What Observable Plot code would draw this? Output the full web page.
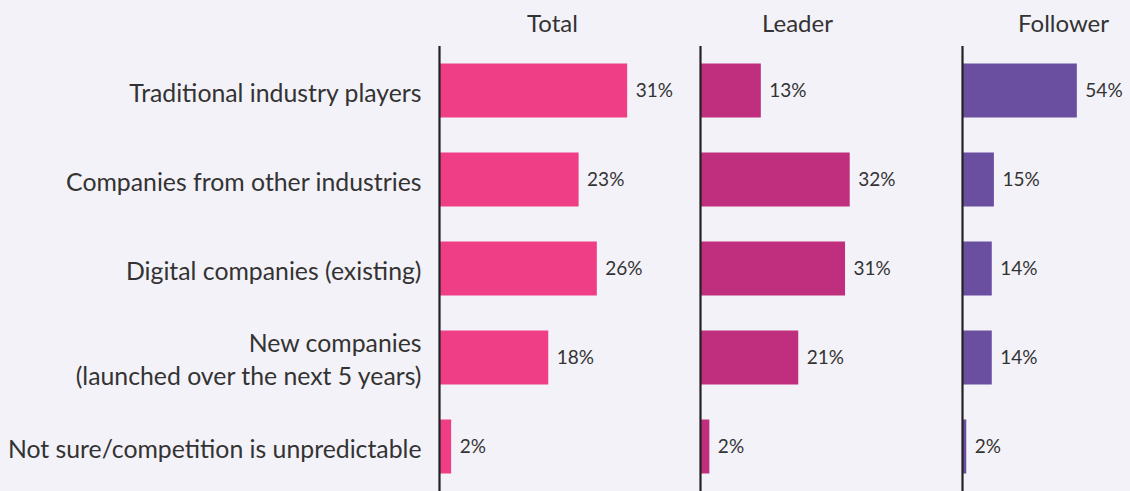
<!DOCTYPE html>
<html><head><meta charset="utf-8">
<script src="https://cdn.jsdelivr.net/npm/d3@7"></script>
<script src="https://cdn.jsdelivr.net/npm/@observablehq/plot@0.6"></script>
<style>
html,body{margin:0;padding:0;background:#F3F2F8;}
#chart{position:relative;width:1130px;height:491px;overflow:hidden;}
#chart svg{position:absolute;top:0;}
</style></head><body><div id="chart"></div>
<script>
const categories = [
  "Traditional industry players",
  "Companies from other industries",
  "Digital companies (existing)",
  "New companies\n(launched over the next 5 years)",
  "Not sure/competition is unpredictable"
];
const totalValues = [31, 23, 26, 18, 2];
const leaderValues = [13, 32, 31, 21, 2];
const followerValues = [54, 15, 14, 14, 2];
const panelTitles = ["Total", "Leader", "Follower"];
const panelColors = ["#EF3E85", "#BF2F7D", "#6A4FA0"];

const FONT = "Lato, 'Open Sans', sans-serif";
const TEXT = "#333333";

function panel({values, color, title, left, width, marginLeft, xMax, titleDx, labels}) {
  const data = categories.map((c, i) => ({category: c, value: values[i]}));
  const marks = [
    Plot.barX(data, {y: "category", x: "value", fill: color, insetTop: 17.5, insetBottom: 17.5}),
    Plot.ruleX([0], {stroke: "#222", strokeWidth: 2.2}),
    Plot.text(data, {y: "category", x: "value", text: d => d.value + "%", textAnchor: "start", dx: 8, fontSize: 19, fill: TEXT}),
    Plot.text([title], {frameAnchor: "top-left", dx: titleDx, dy: -22, textAnchor: "middle", lineAnchor: "middle", fontSize: 24, fill: TEXT})
  ];
  if (labels) marks.push(Plot.axisY({tickSize: 0, tickPadding: 18, fontSize: 24.8, fill: TEXT, lineHeight: 1.33, label: null}));
  const svg = Plot.plot({
    width, height: 491,
    marginLeft, marginRight: 0, marginTop: 46, marginBottom: 0,
    style: {fontFamily: FONT, background: "transparent", overflow: "visible"},
    x: {domain: [0, xMax], axis: null},
    y: {domain: categories, padding: 0, axis: null},
    marks
  });
  svg.style.left = left + "px";
  return svg;
}

const chart = document.getElementById("chart");
chart.append(panel({values: totalValues, color: panelColors[0], title: panelTitles[0], left: 0, width: 700, marginLeft: 439, xMax: 43, titleDx: 113, labels: true}));
chart.append(panel({values: leaderValues, color: panelColors[1], title: panelTitles[1], left: 700, width: 262, marginLeft: 0, xMax: 56, titleDx: 97, labels: false}));
chart.append(panel({values: followerValues, color: panelColors[2], title: panelTitles[2], left: 962, width: 168, marginLeft: 0, xMax: 79, titleDx: 101, labels: false}));
</script></body></html>
